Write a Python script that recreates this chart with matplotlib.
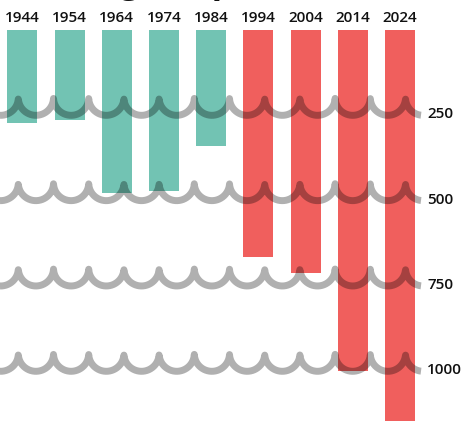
import numpy as np
import matplotlib
matplotlib.use("Agg")
import matplotlib.pyplot as plt

# ---- data ----
years = ["1944", "1954", "1964", "1974", "1984", "1994", "2004", "2014", "2024"]
values = [272, 264, 477, 471, 340, 666, 711, 998, 1200]
groups = ["old", "old", "old", "old", "old", "new", "new", "new", "new"]
tick_values = [250, 500, 750, 1000]
tick_labels = ["250", "500", "750", "1000"]
title_text = "Going deeper"

colors = {"old": "#72c3b3", "new": "#f05f5d"}

W, H, DPI = 462, 421, 100
fig = plt.figure(figsize=(W / DPI, H / DPI), dpi=DPI)
ax = fig.add_axes([0, 0, 1, 1])
ax.set_axis_off()

# scales (pixels per data unit)
px_x = 47.2
x0_px = 22.3
px_y = 0.3413
y0_px = 30.0
ax.set_xlim(-x0_px / px_x, (W - x0_px) / px_x)
ax.set_ylim((H - y0_px) / px_y, -y0_px / px_y)

xs = np.arange(len(years))
ax.bar(xs, values, width=30 / px_x, bottom=0,
       color=[colors[g] for g in groups], zorder=2)

# year labels above bars
for x, yr in zip(xs, years):
    ax.text(x, -12.5 / px_y, yr, ha="center", va="center",
            fontsize=11, family="Open Sans", weight="semibold", color="#111111")

# wavy gridlines (semicircle scallops)
period_px = 35.2
r_px = period_px / 2
cusp0_px = 18.3
xp = np.linspace(0, 421, 3000)
phase = np.mod(xp - cusp0_px, period_px) - r_px
depth = np.sqrt(np.clip(r_px ** 2 - phase ** 2, 0, None))  # 0 at cusp, r at bottom
for v, lab in zip(tick_values, tick_labels):
    ypix = (v * px_y + y0_px) - r_px + depth
    ax.plot((xp - x0_px) / px_x, (ypix - y0_px) / px_y, color="black",
            alpha=0.31, lw=5.0, solid_capstyle="butt", solid_joinstyle="round", zorder=3)
    ax.text((427 - x0_px) / px_x, v - 1.0 / px_y, lab, ha="left", va="center",
            fontsize=11, family="Open Sans", weight="semibold", color="#111111")

# title (mostly cut off above the canvas)
fig.text(40 / W, 1 + 8 / H, title_text, ha="left", va="baseline",
         fontsize=25, family="Open Sans", weight="bold", color="#111111")

fig.savefig("out.png", dpi=DPI)
